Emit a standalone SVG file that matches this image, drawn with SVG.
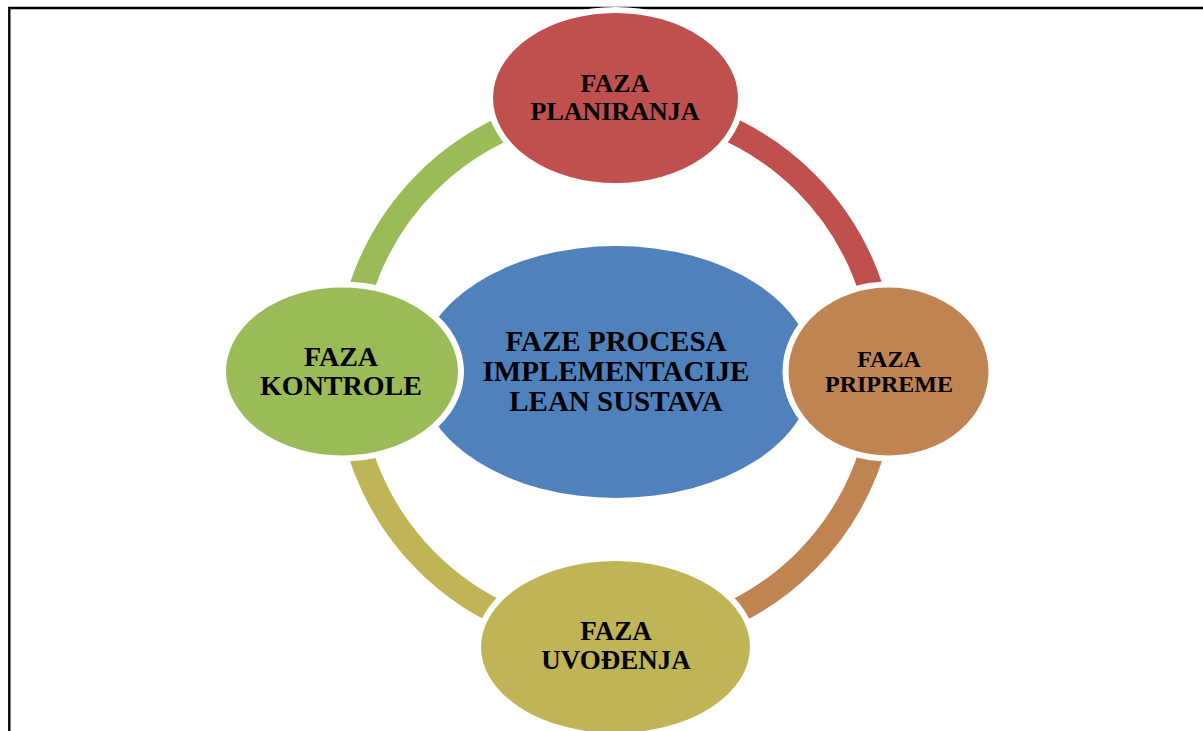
<svg xmlns="http://www.w3.org/2000/svg" width="1203" height="731" viewBox="0 0 1203 731">
  <style>
    .frame { fill: none; stroke: #000; stroke-width: 2.4; }
    .ring { fill: none; stroke-width: 25; }
    .node { stroke: #fff; stroke-width: 6; }
    .lbl { font-family: "Liberation Serif", "Times New Roman", serif; font-weight: bold; fill: #000; text-anchor: middle; }
  </style>
  <rect width="1203" height="731" fill="#fff"/>
  <path class="frame" d="M9.3 731 V8 H1203"/>

  <!-- cycle ring: quarter arcs around (616,372), r=268 -->
  <g id="connectors">
    <path class="ring" stroke="#C0504D" d="M616 104 A268 268 0 0 1 884 372"/>
    <path class="ring" stroke="#C08352" d="M884 372 A268 268 0 0 1 616 640"/>
    <path class="ring" stroke="#BFB456" d="M616 640 A268 268 0 0 1 348 372"/>
    <path class="ring" stroke="#9BBB59" d="M348 372 A268 268 0 0 1 616 104"/>
  </g>

  <g id="center">
    <ellipse cx="616" cy="372" rx="197" ry="126" fill="#4F81BD"/>
    <text class="lbl" font-size="29"><tspan x="616" y="351">FAZE PROCESA</tspan><tspan x="616" y="381">IMPLEMENTACIJE</tspan><tspan x="616" y="411">LEAN SUSTAVA</tspan></text>
  </g>

  <g id="planiranje">
    <ellipse class="node" cx="615.5" cy="98" rx="125.5" ry="88" fill="#C0504D"/>
    <text class="lbl" font-size="26"><tspan x="615" y="92">FAZA</tspan><tspan x="615" y="119.5">PLANIRANJA</tspan></text>
  </g>

  <g id="priprema">
    <ellipse class="node" cx="888.5" cy="371.5" rx="103" ry="87" fill="#C08352"/>
    <text class="lbl" font-size="24"><tspan x="889" y="367">FAZA</tspan><tspan x="889" y="392">PRIPREME</tspan></text>
  </g>

  <g id="uvodenje">
    <ellipse class="node" cx="615.5" cy="647" rx="137.5" ry="89" fill="#BFB456"/>
    <text class="lbl" font-size="27"><tspan x="616" y="640">FAZA</tspan><tspan x="616" y="669">UVOĐENJA</tspan></text>
  </g>

  <g id="kontrola">
    <ellipse class="node" cx="342" cy="371.5" rx="119" ry="87" fill="#9BBB59"/>
    <text class="lbl" font-size="28"><tspan x="341" y="366">FAZA</tspan><tspan x="341" y="395">KONTROLE</tspan></text>
  </g>
</svg>
